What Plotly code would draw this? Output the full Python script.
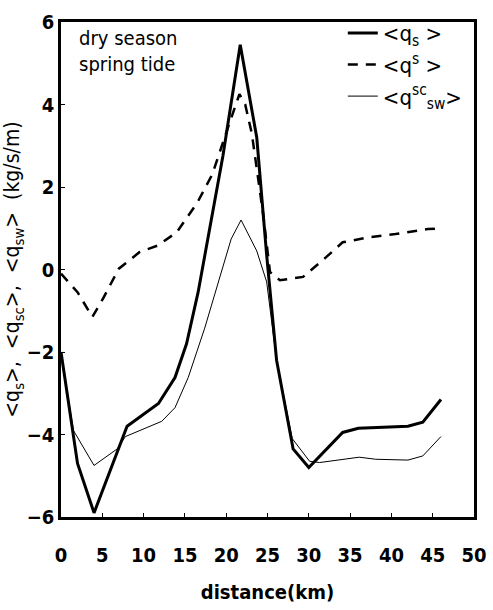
import plotly.graph_objects as go

# <q_s> (thick solid)
qs_x = [0, 2, 4, 8, 11.8, 13.8, 15.2, 16.6, 19.6, 21.7, 23.7, 24.9, 26.1, 28.1, 30, 34.1, 36, 42, 43.8, 46]
qs_y = [-2.0, -4.7, -5.9, -3.8, -3.25, -2.62, -1.8, -0.55, 2.75, 5.45, 3.2, 0.35, -2.2, -4.35, -4.8, -3.95, -3.85, -3.8, -3.7, -3.15]

# <q^s> (dashed)
qsc_x = [0, 2, 3.8, 5.1, 7, 9.5, 11.7, 14, 16.5, 18.3, 20.4, 21.6, 22.3, 23.1, 24.5, 25.3, 26.5, 29.3, 32.1, 34.1, 37.3, 40.5, 44.4, 46]
qsc_y = [-0.1, -0.55, -1.15, -0.7, 0.02, 0.42, 0.58, 0.9, 1.62, 2.3, 3.55, 4.25, 4.0, 3.3, 1.3, -0.06, -0.26, -0.18, 0.3, 0.66, 0.78, 0.86, 0.98, 1.0]

# <q^sc_sw> (thin)
qsw_x = [0, 1.5, 4, 6.8, 7.8, 12.2, 13.8, 15.4, 17.4, 19.8, 20.6, 21.8, 23.7, 24.9, 26.1, 28, 30.1, 31.3, 34.1, 36.1, 38.1, 42, 43.8, 46]
qsw_y = [-2.0, -3.9, -4.75, -4.35, -4.05, -3.68, -3.35, -2.62, -1.42, 0.18, 0.74, 1.2, 0.45, -0.3, -2.2, -4.1, -4.65, -4.68, -4.6, -4.55, -4.6, -4.62, -4.52, -4.05]

x_ticks = [0, 5, 10, 15, 20, 25, 30, 35, 40, 45, 50]
y_ticks = [-6, -4, -2, 0, 2, 4, 6]

font = "DejaVu Sans Condensed, Arial, sans-serif"

fig = go.Figure()
fig.add_trace(go.Scatter(x=qs_x, y=qs_y, mode="lines", name="<q<sub>s</sub> >",
                         line=dict(color="black", width=3)))
fig.add_trace(go.Scatter(x=qsc_x, y=qsc_y, mode="lines", name="<q<sup>s</sup> >",
                         line=dict(color="black", width=2.5, dash="10px,8px")))
fig.add_trace(go.Scatter(x=qsw_x, y=qsw_y, mode="lines", name="<q<sup>sc</sup><sub>sw</sub>>",
                         line=dict(color="black", width=1)))

fig.add_annotation(x=0.038, y=0.995, xref="paper", yref="paper", xanchor="left", yanchor="top",
                   text="dry season<br>spring tide", showarrow=False, align="left",
                   font=dict(family=font, size=20, color="black"))

axis_common = dict(showgrid=False, zeroline=False, showline=True, linecolor="black", linewidth=2.5,
                   mirror=True, ticks="inside", ticklen=4, tickcolor="black", automargin=False,
                   tickfont=dict(family=font, size=20, color="black", weight="bold"))

fig.update_layout(
    width=493, height=610,
    margin=dict(l=61, r=19, t=18, b=93),
    paper_bgcolor="white", plot_bgcolor="white",
    showlegend=True,
    legend=dict(x=0.985, y=1.02, xanchor="right", yanchor="top", bgcolor="rgba(0,0,0,0)",
                font=dict(family=font, size=22, color="black"), itemwidth=30, tracegroupgap=0),
    xaxis=dict(range=[0, 50], tickvals=x_ticks, ticklabelstandoff=18,
               title=dict(text="distance(km)", font=dict(family=font, size=20, color="black", weight="bold"), standoff=20),
               **axis_common),
    yaxis=dict(range=[-6, 6], tickvals=y_ticks,
               title=dict(text="<q<sub>s</sub>>,  <q<sub>sc</sub>>,  <q<sub>sw</sub>>  (kg/s/m)",
                          font=dict(family=font, size=21, color="black"), standoff=0),
               **axis_common),
)

fig.write_html("out.html")
